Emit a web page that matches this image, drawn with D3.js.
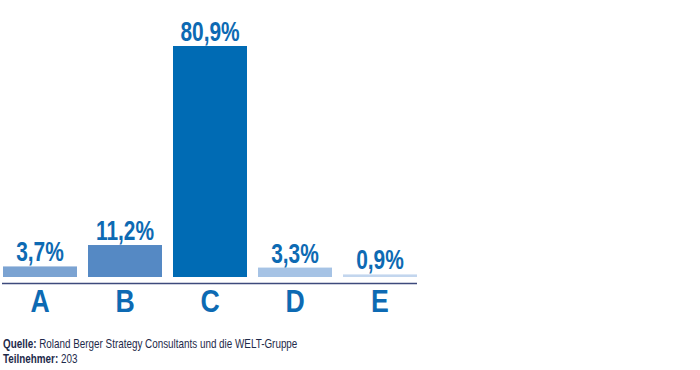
<!DOCTYPE html>
<html>
<head>
<meta charset="utf-8">
<script src="https://cdn.jsdelivr.net/npm/d3@7"></script>
<style>
  body { margin: 0; background: #fff; }
  text { font-family: "Liberation Sans", Arial, sans-serif; }
</style>
</head>
<body>
<svg id="chart"></svg>
<script>
// data
const categories = ["A", "B", "C", "D", "E"];
const values = [3.7, 11.2, 80.9, 3.3, 0.9];
const valueLabels = ["3,7%", "11,2%", "80,9%", "3,3%", "0,9%"];
const colors = ["#7ba3d2", "#5589c4", "#006bb4", "#a6c3e5", "#c3d6ee"];

let width = 700,
  height = 370;
// no narrow font installed, so squeeze text horizontally
let narrow = 0.76;

let svg = d3.select("#chart").attr("width", width).attr("height", height);

let xScale = d3
  .scaleBand()
  .domain(categories)
  .range([3, 417])
  .paddingInner(11 / 85)
  .paddingOuter(0);

let yScale = d3.scaleLinear().domain([0, 80.9]).range([277, 46]);

// bars
svg
  .selectAll("rect.bar")
  .data(categories)
  .enter()
  .append("rect")
  .attr("class", "bar")
  .attr("x", (d) => xScale(d))
  .attr("y", (d, i) => yScale(values[i]))
  .attr("width", xScale.bandwidth())
  .attr("height", (d, i) => yScale(0) - yScale(values[i]))
  .attr("fill", (d, i) => colors[i]);

// value labels
svg
  .selectAll(".value")
  .data(categories)
  .enter()
  .append("text")
  .attr("class", "value")
  .attr(
    "transform",
    (d, i) =>
      `translate(${xScale(d) + xScale.bandwidth() / 2},${yScale(values[i]) - 5}) scale(${narrow},1)`
  )
  .attr("text-anchor", "middle")
  .attr("font-size", "27.5px")
  .attr("font-weight", "bold")
  .attr("fill", "#0d6ab3")
  .text((d, i) => valueLabels[i]);

// axis
let xAxis = svg
  .append("g")
  .attr("transform", "translate(0,283)")
  .call(d3.axisBottom(xScale).tickSize(0).tickPadding(7));
xAxis.select(".domain").attr("d", "M2,0.5H417").attr("stroke", "#3d4a7c").attr("stroke-width", 1.5);
xAxis
  .selectAll("text")
  .attr("font-size", "31px")
  .attr("font-weight", "bold")
  .attr("fill", "#0d6ab3")
  .attr("dy", "0.71em")
  .attr("transform", "scale(0.86,1)");

// footer
let foot = svg
  .append("g")
  .attr("fill", "#1e2a4a")
  .attr("font-size", "13px");
let t1 = foot.append("text").attr("transform", `translate(3,348) scale(0.76,1)`);
t1.append("tspan").attr("font-weight", "bold").text("Quelle:");
t1.append("tspan").text(" Roland Berger Strategy Consultants und die WELT-Gruppe");
let t2 = foot.append("text").attr("transform", `translate(3,363) scale(0.76,1)`);
t2.append("tspan").attr("font-weight", "bold").text("Teilnehmer:");
t2.append("tspan").text(" 203");
</script>
</body>
</html>
